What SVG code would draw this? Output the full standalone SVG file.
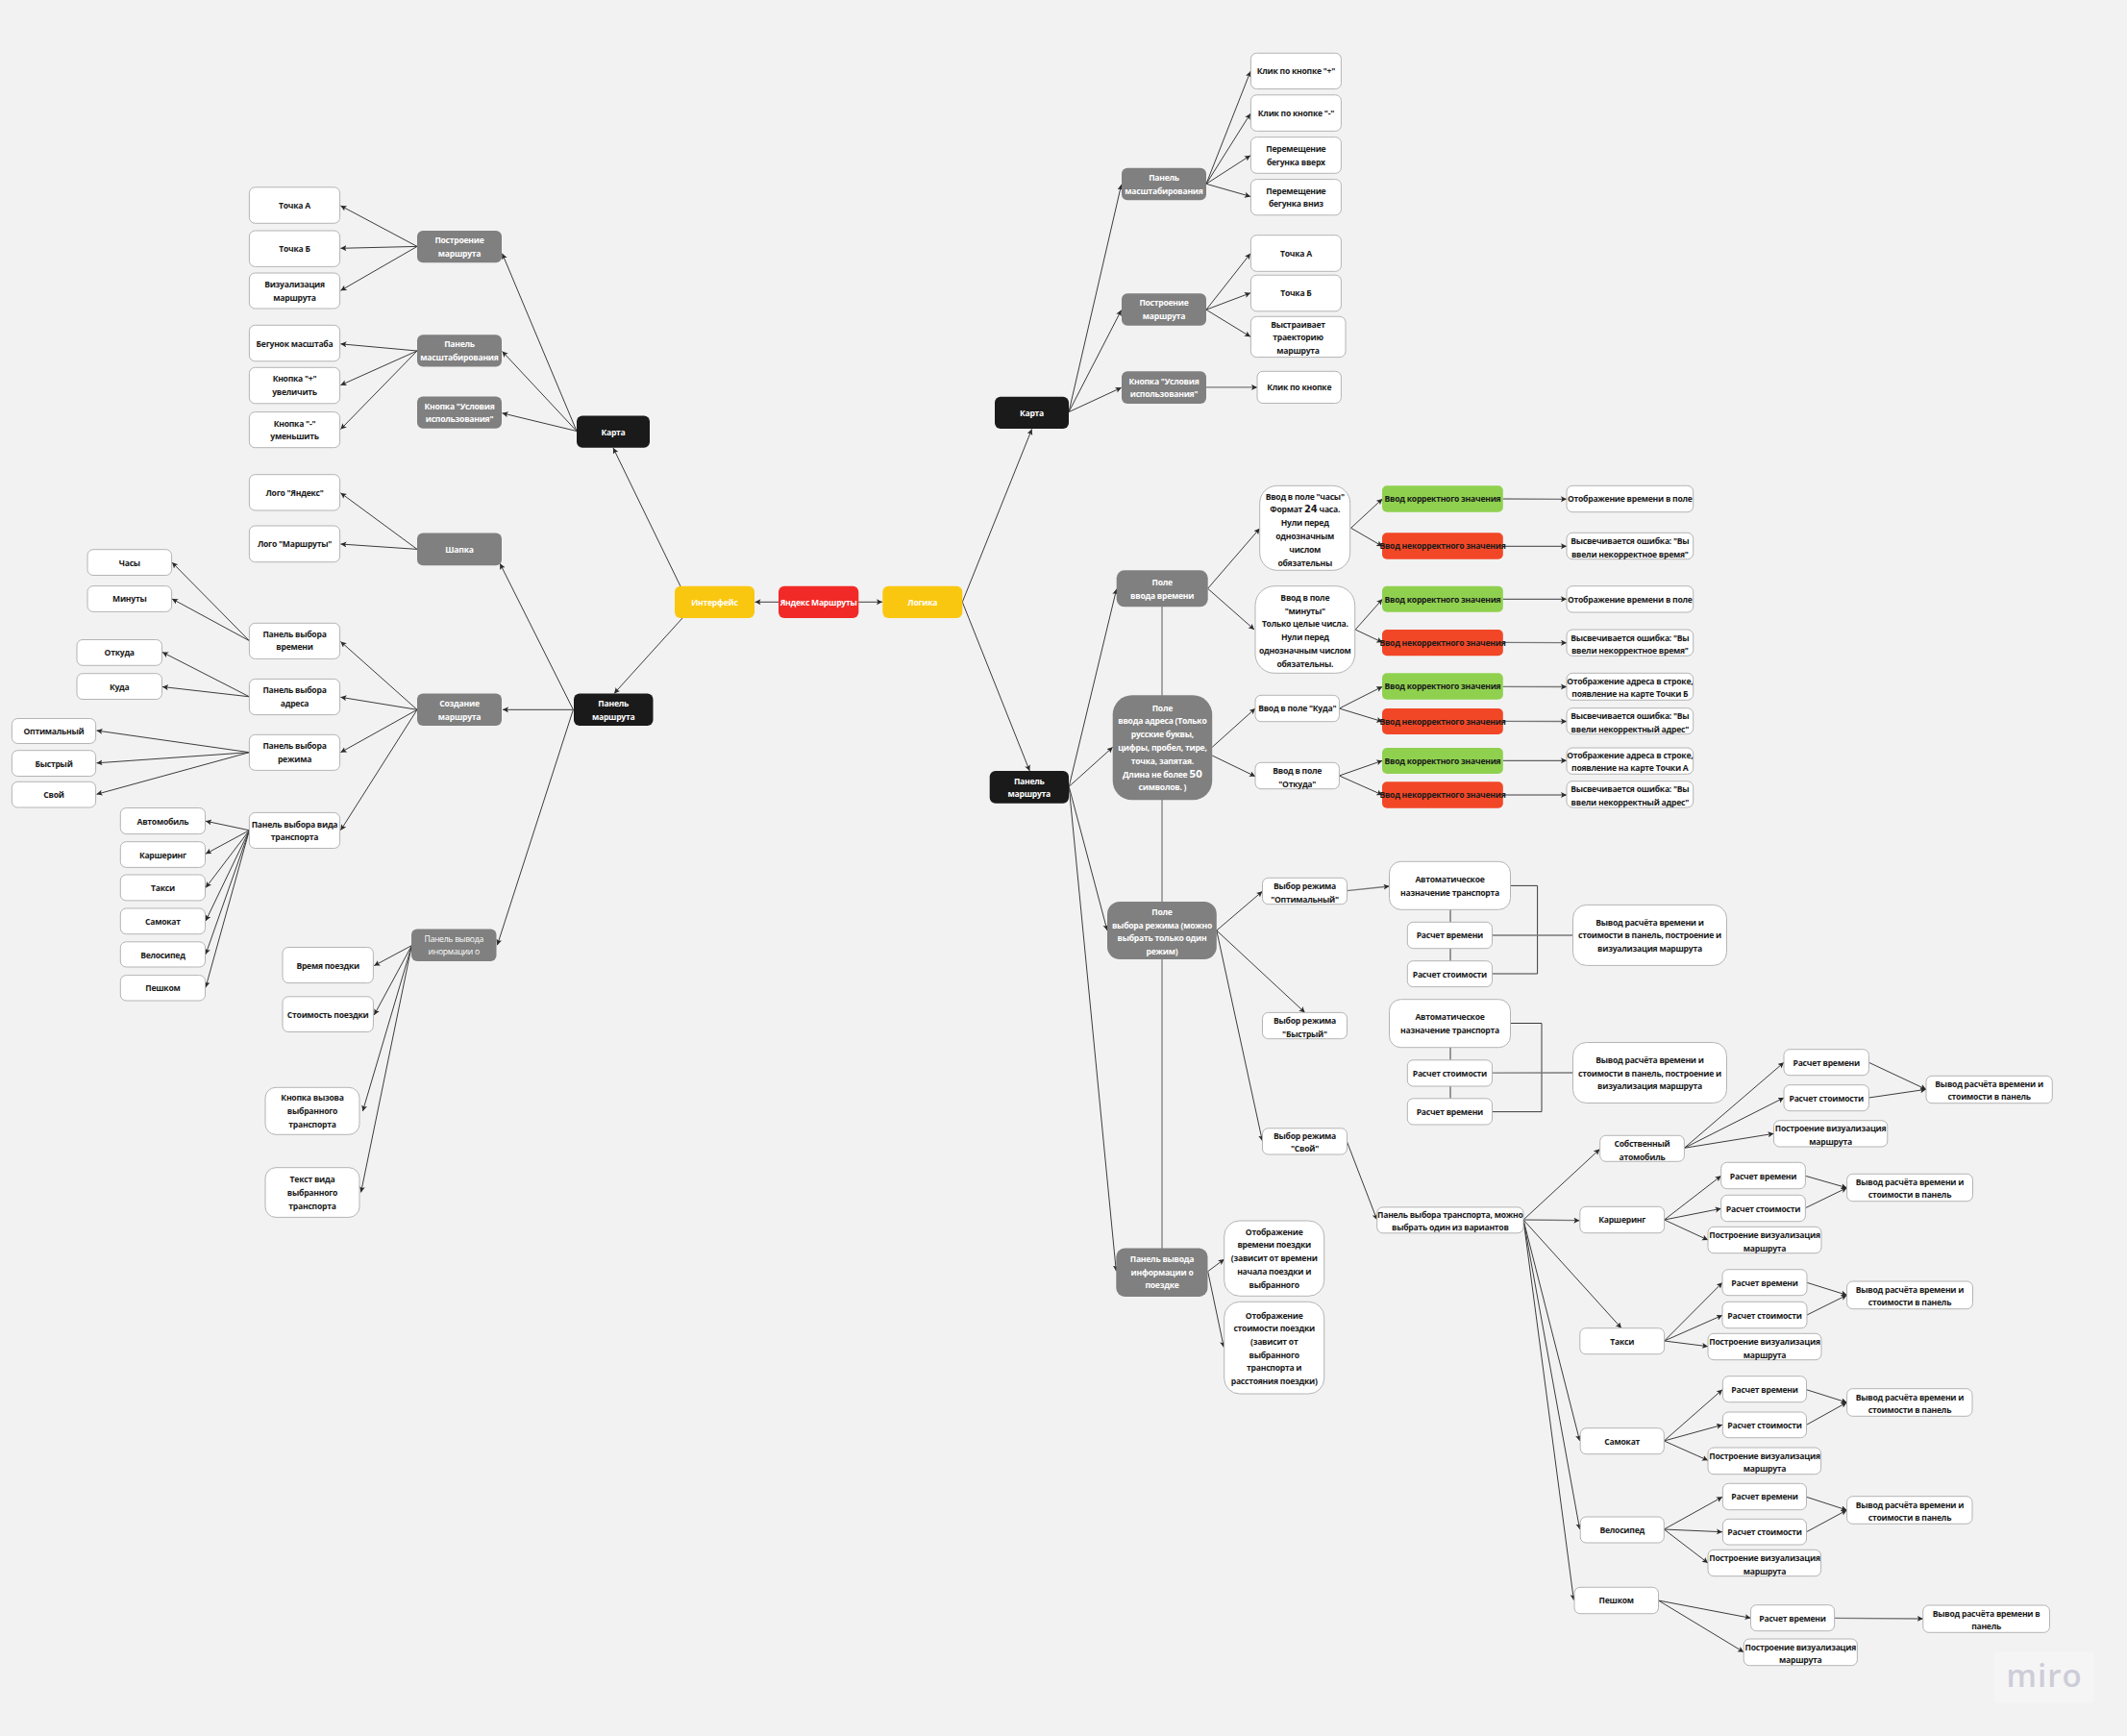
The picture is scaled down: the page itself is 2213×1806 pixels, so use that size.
<svg xmlns="http://www.w3.org/2000/svg" width="2213" height="1806" viewBox="0 0 2213 1806">
<style>
text{font-family:"Open Sans","Noto Sans","Liberation Sans",sans-serif;font-size:8.6px;font-weight:700;letter-spacing:-.25px;text-anchor:middle;fill:#1a1a1a}
.lt{fill:#fff}
.rg{font-weight:400}
.d{font-family:"DejaVu Sans",sans-serif;font-size:10px}
.w{fill:#fff;stroke:#b4b4b4;stroke-width:1}
.g{fill:#808080}
.k{fill:#1a1a1a}
.y{fill:#fac710}
.r{fill:#f22a27}
.ok{fill:#8fd14f}
.er{fill:#f24726}
#connectors line,#connectors path{stroke:#3c3c3c;stroke-width:1;fill:none}
#connectors .a{marker-end:url(#ah)}
#connectors .v{stroke:#a6a6a6;stroke-width:2}
#connectors .th{stroke:#777;stroke-width:1.3}
</style>
<defs>
<marker id="ah" markerUnits="userSpaceOnUse" markerWidth="7" markerHeight="7" refX="6" refY="3" orient="auto"><path d="M0,0L6,3L0,6L1.4,3Z" style="fill:#2a2a2a;stroke:none"/></marker>
</defs>
<rect width="2213" height="1806" fill="#f2f2f2"/>
<g id="connectors">
<line class="v" x1="1209" y1="631" x2="1209" y2="1299"/>
<line class="a" x1="810" y1="626.3" x2="785.5" y2="626.3"/>
<line class="a" x1="893.3" y1="626.3" x2="918" y2="626.3"/>
<line class="a" x1="708" y1="610" x2="638" y2="466"/>
<line class="a" x1="710" y1="643" x2="639" y2="721.4"/>
<line class="a" x1="600" y1="448.5" x2="522.5" y2="263.7"/>
<line class="a" x1="600" y1="448.5" x2="522.5" y2="365.5"/>
<line class="a" x1="600" y1="448.5" x2="522.5" y2="429.8"/>
<line class="a" x1="434" y1="256.4" x2="354.4" y2="214"/>
<line class="a" x1="434" y1="256.4" x2="354.4" y2="258.3"/>
<line class="a" x1="434" y1="256.4" x2="354.4" y2="302.3"/>
<line class="a" x1="434" y1="365" x2="354.4" y2="357.8"/>
<line class="a" x1="434" y1="365" x2="354.4" y2="400.7"/>
<line class="a" x1="434" y1="365" x2="354.4" y2="446.6"/>
<line class="a" x1="596.4" y1="738.3" x2="523" y2="738.3"/>
<line class="a" x1="596.4" y1="738.3" x2="520.2" y2="586.3"/>
<line class="a" x1="596.4" y1="738.3" x2="517.4" y2="983.2"/>
<line class="a" x1="434" y1="571.4" x2="354.4" y2="512.8"/>
<line class="a" x1="434" y1="571.4" x2="354.4" y2="566"/>
<line class="a" x1="259.4" y1="666.6" x2="179" y2="585.1"/>
<line class="a" x1="259.4" y1="666.6" x2="179" y2="623"/>
<line class="a" x1="259.4" y1="724.8" x2="169" y2="678.5"/>
<line class="a" x1="259.4" y1="724.8" x2="169" y2="714.5"/>
<line class="a" x1="434" y1="738.3" x2="354.4" y2="667.4"/>
<line class="a" x1="434" y1="738.3" x2="354.4" y2="725.3"/>
<line class="a" x1="434" y1="738.3" x2="354.4" y2="782.7"/>
<line class="a" x1="434" y1="738.3" x2="354.4" y2="863.8"/>
<line class="a" x1="259.4" y1="782.7" x2="100.5" y2="760"/>
<line class="a" x1="259.4" y1="782.7" x2="100.5" y2="793.8"/>
<line class="a" x1="259.4" y1="782.7" x2="100.5" y2="826.3"/>
<line class="a" x1="259.4" y1="863.8" x2="214" y2="854.2"/>
<line class="a" x1="259.4" y1="863.8" x2="214" y2="888.3"/>
<line class="a" x1="259.4" y1="863.8" x2="214" y2="923.5"/>
<line class="a" x1="259.4" y1="863.8" x2="214" y2="958"/>
<line class="a" x1="259.4" y1="863.8" x2="214" y2="992.8"/>
<line class="a" x1="259.4" y1="863.8" x2="214" y2="1027.2"/>
<line class="a" x1="428.4" y1="983.6" x2="389.3" y2="1004.6"/>
<line class="a" x1="428.4" y1="983.6" x2="389.3" y2="1055.9"/>
<line class="a" x1="428.4" y1="983.6" x2="377.4" y2="1156"/>
<line class="a" x1="428.4" y1="983.6" x2="375.6" y2="1240.4"/>
<line class="a" x1="1001.3" y1="626.3" x2="1073.6" y2="446.4"/>
<line class="a" x1="1001.3" y1="626.3" x2="1071.3" y2="802"/>
<line class="a" x1="1112" y1="428.6" x2="1166.7" y2="192"/>
<line class="a" x1="1112" y1="428.6" x2="1166.7" y2="322.6"/>
<line class="a" x1="1112" y1="428.6" x2="1166.7" y2="403.3"/>
<line class="a" x1="1255" y1="191.3" x2="1301" y2="74.3"/>
<line class="a" x1="1255" y1="191.3" x2="1301" y2="118.2"/>
<line class="a" x1="1255" y1="191.3" x2="1301" y2="161.7"/>
<line class="a" x1="1255" y1="191.3" x2="1301" y2="204.4"/>
<line class="a" x1="1255" y1="322.2" x2="1301" y2="263.7"/>
<line class="a" x1="1255" y1="322.2" x2="1301" y2="304.8"/>
<line class="a" x1="1255" y1="322.2" x2="1301" y2="350.3"/>
<line class="a th" x1="1255" y1="402.9" x2="1308" y2="402.9"/>
<line class="a" x1="1112.2" y1="818.3" x2="1161.7" y2="612.7"/>
<line class="a" x1="1112.2" y1="818.3" x2="1157.7" y2="777.3"/>
<line class="a" x1="1112.2" y1="818.3" x2="1152" y2="968"/>
<line class="a" x1="1112.2" y1="818.3" x2="1161.3" y2="1322.3"/>
<line class="a" x1="1256.6" y1="612.3" x2="1310.7" y2="549.7"/>
<line class="a" x1="1256.6" y1="612.3" x2="1305" y2="655"/>
<line class="a" x1="1405.6" y1="549.3" x2="1438.3" y2="519"/>
<line class="a" x1="1405.6" y1="549.3" x2="1438.3" y2="568.3"/>
<line class="a" x1="1410.2" y1="655" x2="1438.3" y2="623.3"/>
<line class="a" x1="1410.2" y1="655" x2="1438.3" y2="668.3"/>
<line class="a" x1="1261.2" y1="777.3" x2="1306" y2="737"/>
<line class="a" x1="1261.2" y1="786" x2="1306" y2="807.7"/>
<line class="a" x1="1393.4" y1="737" x2="1438.3" y2="714.3"/>
<line class="a" x1="1393.4" y1="737" x2="1438.3" y2="750.7"/>
<line class="a" x1="1393.4" y1="807" x2="1438.3" y2="791.3"/>
<line class="a" x1="1393.4" y1="807" x2="1438.3" y2="827"/>
<line class="a th" x1="1563.8" y1="519" x2="1630" y2="519.3"/>
<line class="a" x1="1563.8" y1="568.3" x2="1630" y2="568.3"/>
<line class="a" x1="1563.8" y1="623.3" x2="1630" y2="623.3"/>
<line class="a th" x1="1563.8" y1="668.3" x2="1630" y2="668.7"/>
<line class="a th" x1="1563.8" y1="714.3" x2="1630" y2="714.5"/>
<line class="a th" x1="1563.8" y1="750.3" x2="1630" y2="750.5"/>
<line class="a" x1="1563.8" y1="791.3" x2="1630" y2="791.3"/>
<line class="a" x1="1563.8" y1="827" x2="1630" y2="827"/>
<line class="a" x1="1265.8" y1="968" x2="1313.4" y2="927.3"/>
<line class="a" x1="1265.8" y1="968" x2="1357.7" y2="1053.4"/>
<line class="a" x1="1265.8" y1="968" x2="1313.4" y2="1187"/>
<line class="a th" x1="1401.4" y1="926.6" x2="1445.6" y2="922"/>
<line class="a" x1="1401.4" y1="1187.6" x2="1432.7" y2="1269"/>
<line class="a" x1="1256.7" y1="1322.7" x2="1273.7" y2="1310"/>
<line class="a" x1="1256.7" y1="1322.7" x2="1273.3" y2="1401.7"/>
<line x1="1509" y1="946" x2="1509" y2="959.5"/>
<line x1="1509" y1="986.5" x2="1509" y2="1000"/>
<line x1="1509" y1="1089.5" x2="1509" y2="1103"/>
<line x1="1509" y1="1130" x2="1509" y2="1143"/>
<path d="M1571.5,921.4H1599.6V1013H1552.3"/>
<line class="th" x1="1552.3" y1="973" x2="1636.7" y2="973"/>
<path d="M1571.5,1064.5H1604V1156.6H1552.3"/>
<line class="th" x1="1552.3" y1="1116.2" x2="1636.3" y2="1116"/>
<line class="a" x1="1585" y1="1269" x2="1664.4" y2="1195.5"/>
<line class="a th" x1="1585" y1="1269" x2="1643.4" y2="1269.7"/>
<line class="a" x1="1585" y1="1269" x2="1687" y2="1381.7"/>
<line class="a" x1="1585" y1="1269" x2="1643.6" y2="1499"/>
<line class="a" x1="1585" y1="1269" x2="1643.6" y2="1591"/>
<line class="a" x1="1585" y1="1269" x2="1637.4" y2="1664.7"/>
<line class="a" x1="1752.4" y1="1194.3" x2="1856" y2="1105.3"/>
<line class="a" x1="1752.4" y1="1194.3" x2="1856" y2="1142"/>
<line class="a" x1="1752.4" y1="1194.3" x2="1845.5" y2="1179.3"/>
<line class="a" x1="1944.4" y1="1105.3" x2="2004" y2="1133.3"/>
<line class="a" x1="1944.4" y1="1142" x2="2004" y2="1133.3"/>
<line class="a" x1="1731.6" y1="1269" x2="1790.7" y2="1223.3"/>
<line class="a" x1="1731.6" y1="1269" x2="1790.7" y2="1257.3"/>
<line class="a" x1="1731.6" y1="1269" x2="1777" y2="1290"/>
<line class="a" x1="1878.4" y1="1223.3" x2="1921.6" y2="1235.7"/>
<line class="a" x1="1878.4" y1="1256.7" x2="1921.6" y2="1235.7"/>
<line class="a" x1="1731.6" y1="1395" x2="1792" y2="1334.3"/>
<line class="a" x1="1731.6" y1="1395" x2="1792" y2="1368.3"/>
<line class="a" x1="1731.6" y1="1395" x2="1777" y2="1400.7"/>
<line class="a" x1="1880" y1="1334.3" x2="1921.6" y2="1347.3"/>
<line class="a" x1="1880" y1="1368" x2="1921.6" y2="1347.3"/>
<line class="a" x1="1731.3" y1="1499" x2="1792" y2="1445.7"/>
<line class="a" x1="1731.3" y1="1499" x2="1792" y2="1482.3"/>
<line class="a" x1="1731.3" y1="1499" x2="1777" y2="1519.3"/>
<line class="a" x1="1879.5" y1="1445.7" x2="1921.5" y2="1459"/>
<line class="a" x1="1879.5" y1="1482.3" x2="1921.5" y2="1459"/>
<line class="a" x1="1731.3" y1="1591" x2="1792" y2="1557.3"/>
<line class="a" x1="1731.3" y1="1591" x2="1792" y2="1593.7"/>
<line class="a" x1="1731.3" y1="1591" x2="1777" y2="1626"/>
<line class="a" x1="1879.5" y1="1557.3" x2="1921.5" y2="1571"/>
<line class="a" x1="1879.5" y1="1593.7" x2="1921.5" y2="1571"/>
<line class="a" x1="1725.5" y1="1665" x2="1821.5" y2="1683.3"/>
<line class="a" x1="1725.5" y1="1665" x2="1814.2" y2="1718.7"/>
<line class="a th" x1="1908.6" y1="1683.3" x2="2000.8" y2="1684"/>
</g>
<g id="n-root"><rect class="r" x="810" y="609.7" width="83.3" height="33.3" rx="6"/><text class="lt" x="851.6" y="629.7">Яндекс Маршруты</text></g>
<g id="n-interface"><rect class="y" x="702" y="609.7" width="83" height="33.3" rx="6"/><text class="lt" x="743.5" y="629.7">Интерфейс</text></g>
<g id="n-logic"><rect class="y" x="918.3" y="609.7" width="83" height="33.3" rx="6"/><text class="lt" x="959.8" y="629.7">Логика</text></g>
<g id="l-map"><rect class="k" x="600" y="432.4" width="76" height="33.3" rx="6"/><text class="lt" x="638" y="452.5">Карта</text></g>
<g id="l-route"><rect class="k" x="597" y="721.4" width="82.5" height="33.6" rx="6"/><text class="lt" x="638.2" y="734.7">Панель<tspan x="638.2" dy="13.8">маршрута</tspan></text></g>
<g id="l1"><rect class="g" x="434" y="240" width="88" height="33.2" rx="6"/><text class="lt" x="478" y="253">Построение<tspan x="478" dy="13.8">маршрута</tspan></text></g>
<g id="l2"><rect class="g" x="434" y="348.2" width="88" height="33.3" rx="6"/><text class="lt" x="478" y="361.3">Панель<tspan x="478" dy="13.8">масштабирования</tspan></text></g>
<g id="l3"><rect class="g" x="434" y="412.5" width="88" height="33.3" rx="6"/><text class="lt" x="478" y="425.6">Кнопка "Условия<tspan x="478" dy="13.8">использования"</tspan></text></g>
<g id="l4"><rect class="g" x="434" y="554.5" width="88" height="33.7" rx="6"/><text class="lt" x="478" y="574.8">Шапка</text></g>
<g id="l5"><rect class="g" x="434" y="721.4" width="88" height="33.6" rx="6"/><text class="lt" x="478" y="734.7">Создание<tspan x="478" dy="13.8">маршрута</tspan></text></g>
<g id="l6"><rect class="g" x="428" y="966.4" width="88.5" height="33.6" rx="6"/><text class="lt rg" x="472.2" y="979.5">Панель вывода<tspan x="472.2" dy="13.5">инормации о</tspan></text></g>
<g id="a1"><rect class="w" x="259.4" y="194.8" width="94.2" height="37.5" rx="6"/><text x="306.5" y="216.9">Точка А</text></g>
<g id="a2"><rect class="w" x="259.4" y="240" width="94.2" height="37.4" rx="6"/><text x="306.5" y="262.1">Точка Б</text></g>
<g id="a3"><rect class="w" x="259.4" y="284" width="94.2" height="37" rx="6"/><text x="306.5" y="298.8">Визуализация<tspan x="306.5" dy="13.8">маршрута</tspan></text></g>
<g id="a4"><rect class="w" x="259.4" y="338.3" width="94.2" height="37.5" rx="6"/><text x="306.5" y="360.6">Бегунок масштаба</text></g>
<g id="a5"><rect class="w" x="259.4" y="382.3" width="94.2" height="37.5" rx="6"/><text x="306.5" y="397.2">Кнопка "+"<tspan x="306.5" dy="13.3">увеличить</tspan></text></g>
<g id="a6"><rect class="w" x="259.4" y="428.6" width="94.2" height="37.1" rx="6"/><text x="306.5" y="443.5">Кнопка "-"<tspan x="306.5" dy="13.3">уменьшить</tspan></text></g>
<g id="a7"><rect class="w" x="259.4" y="493.7" width="94.2" height="37.3" rx="6"/><text x="306.5" y="515.5">Лого "Яндекс"</text></g>
<g id="a8"><rect class="w" x="259.4" y="547" width="94.2" height="37.7" rx="6"/><text x="306.5" y="569">Лого "Маршруты"</text></g>
<g id="a9"><rect class="w" x="259.4" y="648.3" width="94.2" height="37.1" rx="6"/><text x="306.5" y="663">Панель выбора<tspan x="306.5" dy="13.3">времени</tspan></text></g>
<g id="a10"><rect class="w" x="259.4" y="706.4" width="94.2" height="37.2" rx="6"/><text x="306.5" y="721.2">Панель выбора<tspan x="306.5" dy="13.3">адреса</tspan></text></g>
<g id="a11"><rect class="w" x="259.4" y="764.3" width="94.2" height="37.1" rx="6"/><text x="306.5" y="779.4">Панель выбора<tspan x="306.5" dy="13.8">режима</tspan></text></g>
<g id="a12"><rect class="w" x="259.4" y="845.4" width="94.2" height="37.1" rx="6"/><text x="306.5" y="860.6">Панель выбора вида<tspan x="306.5" dy="13.8">транспорта</tspan></text></g>
<g id="b1"><rect class="w" x="91" y="571.7" width="87.6" height="26.8" rx="6"/><text x="134.8" y="588.5">Часы</text></g>
<g id="b2"><rect class="w" x="91" y="609.6" width="87.6" height="26.8" rx="6"/><text x="134.8" y="626.4">Минуты</text></g>
<g id="b3"><rect class="w" x="80" y="665.5" width="88.5" height="26.8" rx="6"/><text x="124.2" y="682.3">Откуда</text></g>
<g id="b4"><rect class="w" x="80" y="700.7" width="88.5" height="26.8" rx="6"/><text x="124.2" y="717.5">Куда</text></g>
<g id="b5"><rect class="w" x="12.4" y="747.5" width="87.2" height="26" rx="6"/><text x="56" y="763.9">Оптимальный</text></g>
<g id="b6"><rect class="w" x="12.4" y="780.7" width="87.2" height="26.8" rx="6"/><text x="56" y="797.5">Быстрый</text></g>
<g id="b7"><rect class="w" x="12.4" y="813.3" width="87.2" height="26.7" rx="6"/><text x="56" y="830">Свой</text></g>
<g id="b8"><rect class="w" x="125.3" y="840.5" width="88.2" height="27.1" rx="6"/><text x="169.4" y="857.5">Автомобиль</text></g>
<g id="b9"><rect class="w" x="125.3" y="875.7" width="88.2" height="26.7" rx="6"/><text x="169.4" y="892.5">Каршеринг</text></g>
<g id="b10"><rect class="w" x="125.3" y="910" width="88.2" height="26.9" rx="6"/><text x="169.4" y="926.8">Такси</text></g>
<g id="b11"><rect class="w" x="125.3" y="945" width="88.2" height="26.7" rx="6"/><text x="169.4" y="961.8">Самокат</text></g>
<g id="b12"><rect class="w" x="125.3" y="979.8" width="88.2" height="26.2" rx="6"/><text x="169.4" y="996.5">Велосипед</text></g>
<g id="b13"><rect class="w" x="125.3" y="1014.6" width="88.2" height="26.4" rx="6"/><text x="169.4" y="1030.8">Пешком</text></g>
<g id="b14"><rect class="w" x="294" y="985.5" width="94.4" height="37.1" rx="6"/><text x="341.2" y="1007.5">Время поездки</text></g>
<g id="b15"><rect class="w" x="294" y="1036.8" width="94.4" height="36.7" rx="6"/><text x="341.2" y="1058.6">Стоимость поездки</text></g>
<g id="b16"><rect class="w" x="276" y="1131.3" width="98" height="49" rx="11"/><text x="325" y="1145.3">Кнопка вызова<tspan x="325" dy="13.8">выбранного</tspan><tspan x="325" dy="13.8">транспорта</tspan></text></g>
<g id="b17"><rect class="w" x="276" y="1214.7" width="98" height="51.7" rx="11"/><text x="325" y="1230">Текст вида<tspan x="325" dy="13.8">выбранного</tspan><tspan x="325" dy="13.8">транспорта</tspan></text></g>
<g id="r1"><rect class="g" x="1167" y="174.7" width="88" height="33.6" rx="6"/><text class="lt" x="1211" y="187.7">Панель<tspan x="1211" dy="13.8">масштабирования</tspan></text></g>
<g id="r2"><rect class="g" x="1167" y="305.2" width="88" height="33.6" rx="6"/><text class="lt" x="1211" y="318.2">Построение<tspan x="1211" dy="13.8">маршрута</tspan></text></g>
<g id="r3"><rect class="g" x="1167" y="386.3" width="88" height="33.6" rx="6"/><text class="lt" x="1211" y="399.5">Кнопка "Условия<tspan x="1211" dy="13.3">использования"</tspan></text></g>
<g id="r-map"><rect class="k" x="1035" y="412.8" width="77" height="33.2" rx="6"/><text class="lt" x="1073.5" y="432.8">Карта</text></g>
<g id="r-route"><rect class="k" x="1029.7" y="802" width="82.3" height="33.7" rx="6"/><text class="lt" x="1070.8" y="815.5">Панель<tspan x="1070.8" dy="13.3">маршрута</tspan></text></g>
<g id="c1"><rect class="w" x="1301.4" y="55.3" width="94" height="37.2" rx="6"/><text x="1348.4" y="76.5">Клик по кнопке "+"</text></g>
<g id="c2"><rect class="w" x="1301.4" y="98.8" width="94" height="37.6" rx="6"/><text x="1348.4" y="120.5">Клик по кнопке "-"</text></g>
<g id="c3"><rect class="w" x="1301.4" y="142.7" width="94" height="37.6" rx="6"/><text x="1348.4" y="157.8">Перемещение<tspan x="1348.4" dy="13.8">бегунка вверх</tspan></text></g>
<g id="c4"><rect class="w" x="1301.4" y="186.6" width="94" height="37.2" rx="6"/><text x="1348.4" y="201.5">Перемещение<tspan x="1348.4" dy="13.8">бегунка вниз</tspan></text></g>
<g id="c5"><rect class="w" x="1301.4" y="244.7" width="94" height="37.6" rx="6"/><text x="1348.4" y="266.6">Точка А</text></g>
<g id="c6"><rect class="w" x="1301.4" y="286.2" width="94" height="37.6" rx="6"/><text x="1348.4" y="307.6">Точка Б</text></g>
<g id="c7"><rect class="w" x="1301.4" y="329.3" width="98.6" height="42.3" rx="6"/><text x="1350.5" y="341">Выстраивает<tspan x="1350.5" dy="13.4">траекторию</tspan><tspan x="1350.5" dy="13.4">маршрута</tspan></text></g>
<g id="c8"><rect class="w" x="1308" y="386.3" width="87.4" height="33.2" rx="6"/><text x="1351.7" y="406.3">Клик по кнопке</text></g>
<g id="f1"><rect class="g" x="1161.7" y="593.3" width="95" height="38" rx="8"/><text class="lt" x="1209.2" y="608.8">Поле<tspan x="1209.2" dy="13.8">ввода времени</tspan></text></g>
<g id="f2"><rect class="g" x="1157.7" y="723.3" width="103.5" height="109" rx="20"/><text class="lt" x="1209.4" y="739.5">Поле<tspan x="1209.4" dy="13.8">ввода адреса (Только</tspan><tspan x="1209.4" dy="13.8">русские буквы,</tspan><tspan x="1209.4" dy="13.8">цифры, пробел, тире,</tspan><tspan x="1209.4" dy="13.8">точка, запятая.</tspan><tspan x="1209.4" dy="13.8">Длина не более <tspan class="d lt">50</tspan></tspan><tspan x="1209.4" dy="13.8">символов. )</tspan></text></g>
<g id="f3"><rect class="g" x="1152" y="938" width="113.8" height="60" rx="13"/><text class="lt" x="1209" y="951.8">Поле<tspan x="1209" dy="13.7">выбора режима (можно</tspan><tspan x="1209" dy="13.7">выбрать только один</tspan><tspan x="1209" dy="13.7">режим)</tspan></text></g>
<g id="f4"><rect class="g" x="1161.3" y="1298.5" width="95.2" height="50.5" rx="9"/><text class="lt" x="1209" y="1312.7">Панель вывода<tspan x="1209" dy="13.8">информации о</tspan><tspan x="1209" dy="13.8">поездке</tspan></text></g>
<g id="d1"><rect class="w" x="1310.7" y="505.3" width="94" height="88" rx="18"/><text x="1357.7" y="519.5">Ввод в поле "часы"<tspan x="1357.7" dy="13.8">Формат <tspan class="d">24</tspan> часа.</tspan><tspan x="1357.7" dy="13.8">Нули перед</tspan><tspan x="1357.7" dy="13.8">однозначным</tspan><tspan x="1357.7" dy="13.8">числом</tspan><tspan x="1357.7" dy="13.8">обязательны</tspan></text></g>
<g id="d2"><rect class="w" x="1306" y="609.7" width="103.7" height="90.6" rx="20"/><text x="1357.8" y="624.8">Ввод в поле<tspan x="1357.8" dy="13.8">"минуты"</tspan><tspan x="1357.8" dy="13.8">Только целые числа.</tspan><tspan x="1357.8" dy="13.8">Нули перед</tspan><tspan x="1357.8" dy="13.8">однозначным числом</tspan><tspan x="1357.8" dy="13.8">обязательны.</tspan></text></g>
<g id="d3"><rect class="w" x="1306" y="723.3" width="87.4" height="27.4" rx="6"/><text x="1349.7" y="740.4">Ввод в поле "Куда"</text></g>
<g id="d4"><rect class="w" x="1306" y="793.3" width="87.4" height="27.4" rx="6"/><text x="1349.7" y="804.7">Ввод в поле<tspan x="1349.7" dy="13.8">"Откуда"</tspan></text></g>
<g id="e1"><rect class="ok" x="1438" y="505.3" width="125.8" height="27.4" rx="5"/><text x="1501" y="522.4">Ввод корректного значения</text></g>
<g id="e2"><rect class="er" x="1438" y="554.3" width="125.8" height="27.4" rx="5"/><text x="1501" y="571.4">Ввод некорректного значения</text></g>
<g id="e3"><rect class="ok" x="1438" y="609.7" width="125.8" height="27" rx="5"/><text x="1501" y="626.6">Ввод корректного значения</text></g>
<g id="e4"><rect class="er" x="1438" y="655" width="125.8" height="27.3" rx="5"/><text x="1501" y="672">Ввод некорректного значения</text></g>
<g id="e5"><rect class="ok" x="1438" y="700.3" width="125.8" height="27.4" rx="5"/><text x="1501" y="717.4">Ввод корректного значения</text></g>
<g id="e6"><rect class="er" x="1438" y="737" width="125.8" height="27" rx="5"/><text x="1501" y="754">Ввод некорректного значения</text></g>
<g id="e7"><rect class="ok" x="1438" y="778" width="125.8" height="27" rx="5"/><text x="1501" y="794.8">Ввод корректного значения</text></g>
<g id="e8"><rect class="er" x="1438" y="813.3" width="125.8" height="27.4" rx="5"/><text x="1501" y="830.4">Ввод некорректного значения</text></g>
<g id="h1"><rect class="w" x="1630" y="505.3" width="131.7" height="27.4" rx="6"/><text x="1695.8" y="522.4">Отображение времени в поле</text></g>
<g id="h2"><rect class="w" x="1630" y="554.3" width="131.7" height="27.4" rx="6"/><text x="1695.8" y="565.8">Высвечивается ошибка: "Вы<tspan x="1695.8" dy="13.8">ввели некорректное время"</tspan></text></g>
<g id="h3"><rect class="w" x="1630" y="609.7" width="131.7" height="27.3" rx="6"/><text x="1695.8" y="626.6">Отображение времени в поле</text></g>
<g id="h4"><rect class="w" x="1630" y="655" width="131.7" height="27.3" rx="6"/><text x="1695.8" y="666.5">Высвечивается ошибка: "Вы<tspan x="1695.8" dy="13.8">ввели некорректное время"</tspan></text></g>
<g id="h5"><rect class="w" x="1630" y="700.3" width="131.7" height="28" rx="6"/><text x="1695.8" y="711.8">Отображение адреса в строке,<tspan x="1695.8" dy="13">появление на карте Точки Б</tspan></text></g>
<g id="h6"><rect class="w" x="1630" y="736.7" width="131.7" height="27" rx="6"/><text x="1695.8" y="747.8">Высвечивается ошибка: "Вы<tspan x="1695.8" dy="13.8">ввели некорректный адрес"</tspan></text></g>
<g id="h7"><rect class="w" x="1630" y="778" width="131.7" height="27.3" rx="6"/><text x="1695.8" y="788.8">Отображение адреса в строке,<tspan x="1695.8" dy="13">появление на карте Точки А</tspan></text></g>
<g id="h8"><rect class="w" x="1630" y="812.7" width="131.7" height="27.3" rx="6"/><text x="1695.8" y="823.8">Высвечивается ошибка: "Вы<tspan x="1695.8" dy="13.8">ввели некорректный адрес"</tspan></text></g>
<g id="m1"><rect class="w" x="1313.5" y="913.3" width="88" height="27.4" rx="6"/><text x="1357.5" y="924.8">Выбор режима<tspan x="1357.5" dy="13.8">"Оптимальный"</tspan></text></g>
<g id="m2"><rect class="w" x="1313.5" y="1053.4" width="88" height="27.3" rx="6"/><text x="1357.5" y="1064.8">Выбор режима<tspan x="1357.5" dy="13.8">"Быстрый"</tspan></text></g>
<g id="m3"><rect class="w" x="1313.5" y="1173.8" width="88" height="27.2" rx="6"/><text x="1357.5" y="1185">Выбор режима<tspan x="1357.5" dy="13.4">"Свой"</tspan></text></g>
<g id="p1"><rect class="w" x="1445.5" y="896.3" width="126" height="50" rx="12"/><text x="1508.5" y="918">Автоматическое<tspan x="1508.5" dy="14">назначение транспорта</tspan></text></g>
<g id="p2"><rect class="w" x="1464.3" y="959.3" width="88.2" height="27.4" rx="6"/><text x="1508.4" y="976.4">Расчет времени</text></g>
<g id="p3"><rect class="w" x="1464.3" y="999.7" width="88.2" height="26.9" rx="6"/><text x="1508.4" y="1016.5">Расчет стоимости</text></g>
<g id="p4"><rect class="w" x="1636.5" y="941.4" width="160" height="63" rx="14"/><text x="1716.5" y="962.7">Вывод расчёта времени  и<tspan x="1716.5" dy="13.7">стоимости в панель, построение и</tspan><tspan x="1716.5" dy="13.7">визуализация маршрута</tspan></text></g>
<g id="q1"><rect class="w" x="1445.5" y="1039.7" width="126" height="50" rx="12"/><text x="1508.5" y="1061">Автоматическое<tspan x="1508.5" dy="14">назначение транспорта</tspan></text></g>
<g id="q2"><rect class="w" x="1464.3" y="1102.8" width="88.2" height="27.2" rx="6"/><text x="1508.4" y="1119.8">Расчет стоимости</text></g>
<g id="q3"><rect class="w" x="1464.3" y="1142.8" width="88.2" height="27.2" rx="6"/><text x="1508.4" y="1159.8">Расчет времени</text></g>
<g id="q4"><rect class="w" x="1636.5" y="1084.5" width="160" height="63" rx="14"/><text x="1716.5" y="1105.8">Вывод расчёта времени  и<tspan x="1716.5" dy="13.7">стоимости в панель, построение и</tspan><tspan x="1716.5" dy="13.7">визуализация маршрута</tspan></text></g>
<g id="s1"><rect class="w" x="1273.7" y="1270" width="104" height="78.3" rx="16"/><text x="1325.7" y="1284.5">Отображение<tspan x="1325.7" dy="13.6">времени поездки</tspan><tspan x="1325.7" dy="13.8">(зависит от времени</tspan><tspan x="1325.7" dy="14">начала поездки и</tspan><tspan x="1325.7" dy="13.8">выбранного</tspan></text></g>
<g id="s2"><rect class="w" x="1273.7" y="1354.3" width="104" height="95.7" rx="16"/><text x="1325.7" y="1371.5">Отображение<tspan x="1325.7" dy="13.5">стоимости поездки</tspan><tspan x="1325.7" dy="13.7">(зависит от</tspan><tspan x="1325.7" dy="13.8">выбранного</tspan><tspan x="1325.7" dy="13.8">транспорта и</tspan><tspan x="1325.7" dy="13.6">расстояния поездки)</tspan></text></g>
<g id="t0"><rect class="w" x="1432.7" y="1255.9" width="152.3" height="26.9" rx="6"/><text x="1508.8" y="1267">Панель выбора транспорта, можно<tspan x="1508.8" dy="13.3">выбрать один из вариантов</tspan></text></g>
<g id="t1"><rect class="w" x="1664.7" y="1181.3" width="87.7" height="27" rx="6"/><text x="1708.5" y="1192.8">Собственный<tspan x="1708.5" dy="14">атомобиль</tspan></text></g>
<g id="t2"><rect class="w" x="1643.8" y="1255.3" width="87.8" height="27.4" rx="6"/><text x="1687.7" y="1272.4">Каршеринг</text></g>
<g id="t3"><rect class="w" x="1643.8" y="1381.7" width="87.8" height="27" rx="6"/><text x="1687.7" y="1398.6">Такси</text></g>
<g id="t4"><rect class="w" x="1644.2" y="1485.7" width="87.1" height="27" rx="6"/><text x="1687.7" y="1502.6">Самокат</text></g>
<g id="t5"><rect class="w" x="1644.2" y="1578" width="87.1" height="27" rx="6"/><text x="1687.7" y="1594.8">Велосипед</text></g>
<g id="t6"><rect class="w" x="1638" y="1651.3" width="87.5" height="27.4" rx="6"/><text x="1681.7" y="1668.4">Пешком</text></g>
<g id="u1"><rect class="w" x="1856" y="1091.7" width="88.4" height="27" rx="6"/><text x="1900.2" y="1108.6">Расчет времени</text></g>
<g id="u2"><rect class="w" x="1856" y="1128.7" width="88.4" height="27" rx="6"/><text x="1900.2" y="1145.6">Расчет стоимости</text></g>
<g id="u3"><rect class="w" x="1845.5" y="1165.7" width="118.3" height="27.3" rx="6"/><text x="1904.6" y="1176.8">Построение визуализация<tspan x="1904.6" dy="13.8">маршрута</tspan></text></g>
<g id="u4"><rect class="w" x="2004" y="1119.3" width="131.3" height="28.4" rx="6"/><text x="2069.6" y="1130.8">Вывод расчёта времени  и<tspan x="2069.6" dy="13.2">стоимости в панель</tspan></text></g>
<g id="v1"><rect class="w" x="1790.7" y="1209.3" width="87.7" height="27.4" rx="6"/><text x="1834.5" y="1226.5">Расчет времени</text></g>
<g id="v2"><rect class="w" x="1790.7" y="1243.3" width="87.7" height="27.4" rx="6"/><text x="1834.5" y="1260.5">Расчет стоимости</text></g>
<g id="v3"><rect class="w" x="1777" y="1276.3" width="118" height="27.4" rx="6"/><text x="1836" y="1287.8">Построение визуализация<tspan x="1836" dy="13.8">маршрута</tspan></text></g>
<g id="v4"><rect class="w" x="1921.6" y="1221.3" width="130.9" height="28.4" rx="6"/><text x="1987" y="1232.8">Вывод расчёта времени  и<tspan x="1987" dy="13.6">стоимости в панель</tspan></text></g>
<g id="w1"><rect class="w" x="1792" y="1320.7" width="88" height="27" rx="6"/><text x="1836" y="1337.6">Расчет времени</text></g>
<g id="w2"><rect class="w" x="1792" y="1354.3" width="88" height="27.4" rx="6"/><text x="1836" y="1371.5">Расчет стоимости</text></g>
<g id="w3"><rect class="w" x="1777" y="1387.3" width="118" height="27.4" rx="6"/><text x="1836" y="1398.8">Построение визуализация<tspan x="1836" dy="13.8">маршрута</tspan></text></g>
<g id="w4"><rect class="w" x="1921.6" y="1333" width="130.9" height="28.7" rx="6"/><text x="1987" y="1344.5">Вывод расчёта времени  и<tspan x="1987" dy="13.2">стоимости в панель</tspan></text></g>
<g id="x1"><rect class="w" x="1792.4" y="1431.7" width="87.1" height="27" rx="6"/><text x="1836" y="1448.6">Расчет времени</text></g>
<g id="x2"><rect class="w" x="1792.4" y="1469" width="87.1" height="26.7" rx="6"/><text x="1836" y="1485.6">Расчет стоимости</text></g>
<g id="x3"><rect class="w" x="1777" y="1506" width="117.6" height="27.7" rx="6"/><text x="1836" y="1517.6">Построение визуализация<tspan x="1836" dy="13">маршрута</tspan></text></g>
<g id="x4"><rect class="w" x="1921.6" y="1444.7" width="130.4" height="28.6" rx="6"/><text x="1987" y="1456.5">Вывод расчёта времени  и<tspan x="1987" dy="13">стоимости в панель</tspan></text></g>
<g id="y1"><rect class="w" x="1792.4" y="1543.3" width="87.1" height="27.4" rx="6"/><text x="1836" y="1560.4">Расчет времени</text></g>
<g id="y2"><rect class="w" x="1792.4" y="1580.3" width="87.1" height="26.7" rx="6"/><text x="1836" y="1596.8">Расчет стоимости</text></g>
<g id="y3"><rect class="w" x="1777" y="1612.3" width="117.6" height="27.4" rx="6"/><text x="1836" y="1623.8">Построение визуализация<tspan x="1836" dy="13.8">маршрута</tspan></text></g>
<g id="y4"><rect class="w" x="1921.6" y="1556.7" width="130.4" height="28.6" rx="6"/><text x="1987" y="1568.5">Вывод расчёта времени  и<tspan x="1987" dy="13">стоимости в панель</tspan></text></g>
<g id="z1"><rect class="w" x="1821.5" y="1669.7" width="87.1" height="27" rx="6"/><text x="1865" y="1686.6">Расчет времени</text></g>
<g id="z2"><rect class="w" x="1814.2" y="1705" width="118.2" height="27.7" rx="6"/><text x="1873.3" y="1716.5">Построение визуализация<tspan x="1873.3" dy="13">маршрута</tspan></text></g>
<g id="z3"><rect class="w" x="2000.8" y="1670" width="131.7" height="28.3" rx="6"/><text x="2066.6" y="1681.8">Вывод расчёта времени в<tspan x="2066.6" dy="13">панель</tspan></text></g>
<g id="watermark"><rect x="2075.5" y="1718" width="102" height="53.7" fill="#f5f5f5"/><text x="2127" y="1755" style="font-size:33px;font-weight:600;letter-spacing:1px;fill:#cdcdd8">miro</text></g>
</svg>
